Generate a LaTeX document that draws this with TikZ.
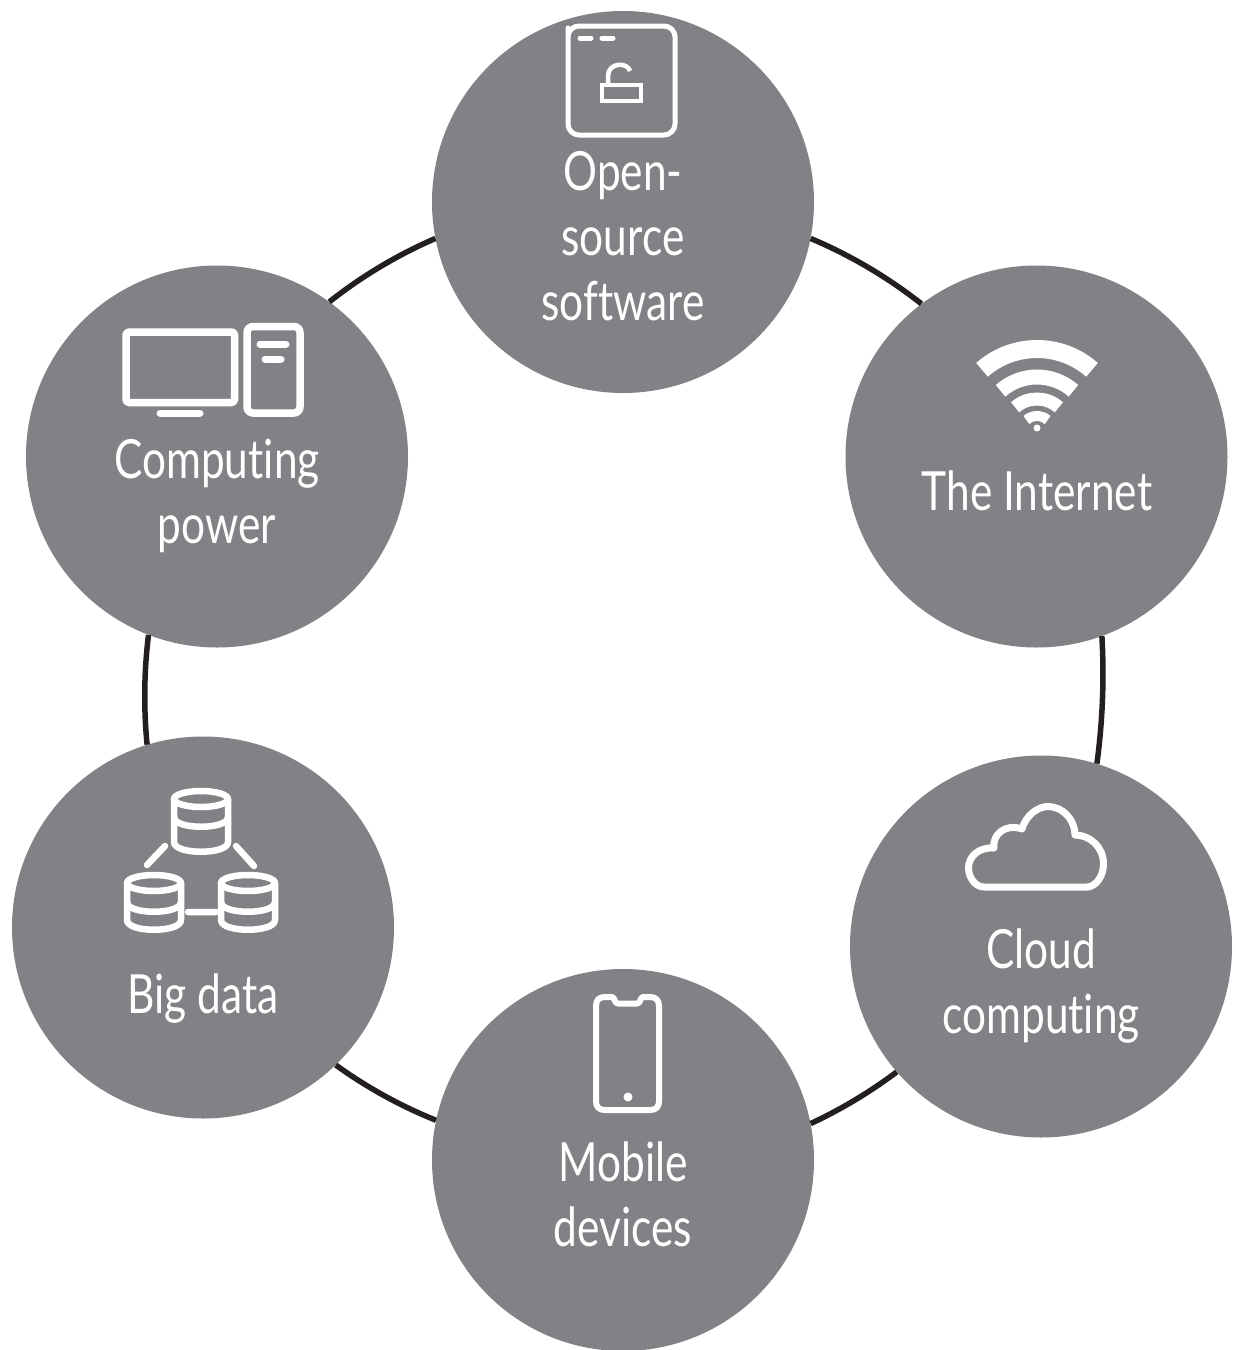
\documentclass[tikz,border=0pt]{standalone}
\usepackage{fontspec}
\newfontfamily\labfont[FakeStretch=0.785,Ligatures=NoCommon]{Lato}
\definecolor{disc}{HTML}{808285}
\definecolor{ring}{HTML}{231F20}
\tikzset{
  discnode/.style={circle,fill=disc,draw=none,minimum size=382pt,inner sep=0pt},
  ringline/.style={draw=ring,line width=5.5pt,looseness=.85},
  lab/.style={text=white,align=center,font=\labfont\fontsize{54pt}{65pt}\selectfont,inner sep=0pt},
  icon/.style={draw=white,line width=#1,line cap=round,line join=round},
  icon/.default=5pt
}
\begin{document}
\begin{tikzpicture}[x=1pt,y=-1pt]
\useasboundingbox (0,0) rectangle (1235,1350);
\fill[white] (0,0) rectangle (1235,1350);
% discs
\node[discnode] (oss) at (623,202) {};
\node[discnode] (inet) at (1036.5,456.5) {};
\node[discnode] (cloud) at (1041,946.5) {};
\node[discnode] (mobile) at (623,1160) {};
\node[discnode] (bigdata) at (203,927.5) {};
\node[discnode] (power) at (217,456.5) {};
% connectors
\draw[ringline] (oss.-11) to[bend left=7.7] (inet.127.6);
\draw[ringline] (inet.-70.9) to[bend left=5.5] (cloud.73.9);
\draw[ringline] (cloud.221.7) to[bend left=6] (mobile.11.5);
\draw[ringline] (mobile.168.5) to[bend left=7] (bigdata.-46.2);
\draw[ringline] (bigdata.107) to[bend left=6.3] (power.249.1);
\draw[ringline] (power.54.6) to[bend left=7.5] (oss.191);
% labels
\node[lab] (l1) at (623,236) {Open-\\source\\software};
\node[lab] (l2) at (1037,491) {The Internet};
\node[lab] (l3) at (1041,986) {Cloud\\computing};
\node[lab] (l4) at (623,1194) {Mobile\\devices};
\node[lab] (l5) at (203,999) {Big data};
\node[lab] (l6) at (217,496) {Computing\\power};
% window icon
\draw[icon] (568,39) [rounded corners=11pt] -- (568,26) -- (675,26) -- (675,135) -- (568,135) -- cycle;
\draw[icon=5pt] (580,38) -- (591,38) (602,38) -- (613,38);
\draw[icon=4.5pt,line cap=butt,line join=miter] (602,85) rectangle (641,101);
\draw[icon=4.5pt,line cap=butt] (608,85) -- (608,76) .. controls (608,62) and (628,62) .. (630,71);
% wifi icon
\begin{scope}[draw=white,line cap=butt]
\draw[line width=18pt] (1037,432) ++(48.5:83pt) arc[start angle=48.5,end angle=131.5,radius=83pt];
\draw[line width=15pt] (1037,432) ++(48.5:55pt) arc[start angle=48.5,end angle=131.5,radius=55pt];
\draw[line width=13pt] (1037,432) ++(48.5:33pt) arc[start angle=48.5,end angle=131.5,radius=33pt];
\draw[line width=10pt] (1037,432) ++(48.5:16pt) arc[start angle=48.5,end angle=131.5,radius=16pt];
\fill[white] (1037,428) circle[radius=3.5pt];
\end{scope}
% cloud icon
\draw[icon=7pt] (984,887) .. controls (975,887) and (968.5,877) .. (968.5,868) .. controls (968.5,857) and (978,847) .. (994,848) .. controls (992,835) and (1005,823) .. (1022,829) .. controls (1026,815) and (1038,806.5) .. (1048,806.5) .. controls (1063,806.5) and (1075,820) .. (1075,835) .. controls (1090,835) and (1103.5,847) .. (1103.5,864) .. controls (1103.5,877) and (1095,887) .. (1087,887) -- cycle;
% phone icon
\draw[icon=6pt] (605,997) -- (612,997) .. controls (615,997) and (614,1003.5) .. (618,1003.5) -- (637,1003.5) .. controls (641,1003.5) and (640,997) .. (643,997) -- (650,997) .. controls (656,997) and (659,1000) .. (659,1006) -- (659,1101) .. controls (659,1107) and (656,1110) .. (650,1110) -- (605,1110) .. controls (599,1110) and (596,1107) .. (596,1101) -- (596,1006) .. controls (596,1000) and (599,997) .. (605,997) -- cycle;
\fill[white] (628,1097) circle[radius=4.5pt];
% database icon
\foreach \cx/\cy/\h/\m in {201/799/53/28,154/883/47/29,248/883/47/29}{
  \draw[icon=6.5pt] (\cx,\cy) ellipse[x radius=27pt,y radius=8pt];
  \draw[icon=6.5pt] (\cx-27,\cy) -- (\cx-27,\cy+\h-10) .. controls (\cx-27,\cy+\h+3) and (\cx+27,\cy+\h+3) .. (\cx+27,\cy+\h-10) -- (\cx+27,\cy);
  \draw[icon=6.5pt] (\cx-27,\cy+\m-10) .. controls (\cx-27,\cy+\m+3) and (\cx+27,\cy+\m+3) .. (\cx+27,\cy+\m-10);
}
\draw[icon=6.5pt] (147,865) -- (165,846) (236,846) -- (254,866) (188,912) -- (216,912);
% computer icon
\draw[icon=7.5pt,rounded corners=3pt] (126,332) rectangle (234.5,402.5);
\draw[icon=7.5pt,rounded corners=6pt] (247,326.5) rectangle (300,413);
\draw[icon=7pt] (160,413) -- (200,413) (260,344) -- (286,344) (265,359) -- (281,359);
\end{tikzpicture}
\end{document}
